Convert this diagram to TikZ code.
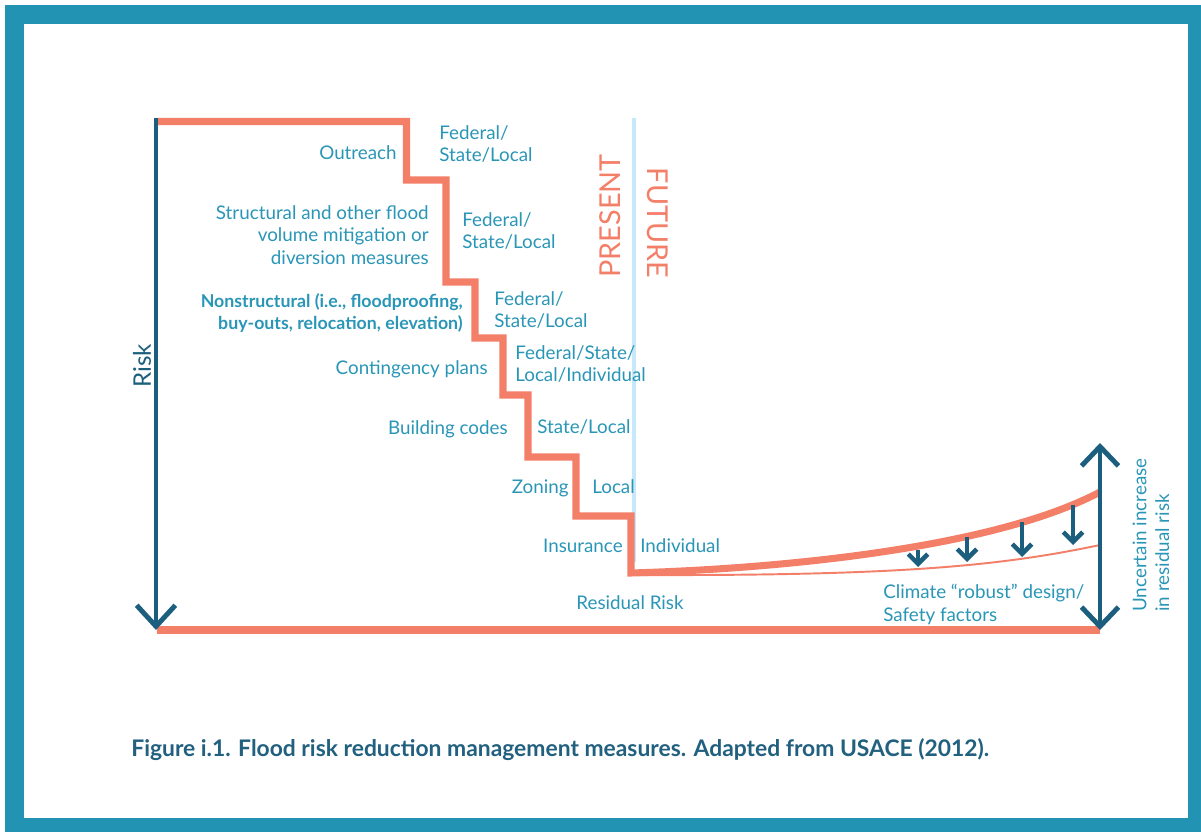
\documentclass[tikz,border=0pt]{standalone}
\usepackage{fontspec}
\setmainfont{Lato}
\usepackage{xcolor}
\usepackage{tikz}
\usetikzlibrary{positioning,arrows.meta}

\definecolor{frameteal}{HTML}{2393B4}
\definecolor{salmon}{HTML}{F37F68}
\definecolor{deepblue}{HTML}{1B5E7E}
\definecolor{textteal}{HTML}{2A96B7}
\definecolor{paleblue}{HTML}{C6E8F8}
\definecolor{captionblue}{HTML}{22607F}

\begin{document}
\begin{tikzpicture}[
				x=0.02cm, y=-0.02cm,
				measure/.style={
					anchor=east,
					align=right,
					inner sep=0pt,
					text=textteal,
					font=\fontsize{10.7}{13}\selectfont
				},
				agency/.style={
					anchor=west,
					align=left,
					inner sep=0pt,
					text=textteal,
					font=\fontsize{10.7}{13}\selectfont
				},
				era/.style={
					inner sep=0pt,
					text=salmon,
					font=\fontsize{16.4}{18}\selectfont
				},
				riskline/.style={
					draw=salmon,
					line width=4pt
				},
				axisarrow/.style={
					draw=deepblue,
					line width=2.8pt,
					-{Straight Barb[length=12pt,width=22pt]}
				},
				spreadarrow/.style={
					draw=deepblue,
					line width=2.8pt,
					{Straight Barb[length=11pt,width=21pt]}-{Straight Barb[length=11pt,width=21pt]}
				},
				droparrow/.style={
					draw=deepblue,
					line width=2.6pt,
					-{Straight Barb[length=5.5pt,width=11pt]}
				}
			]
			\useasboundingbox (0,0) rectangle (1201,832);
			\fill[white] (0,0) rectangle (1201,832);
			\draw[draw=frameteal, line width=10.8pt] (14.5,14.5) rectangle (1197.5,827.5);
			
			% Present / future divide
			\draw[draw=paleblue, line width=2.8pt] (634,118) -- (634,562);
			\node[era, rotate=90] (present) at (610,216) {PRESENT};
			\node[era, rotate=-90] (future) at (658,223) {FUTURE};
			
			% Risk staircase and residual risk curves
			\draw[riskline] (157,121.5) -- (406.5,121.5) -- (406.5,180) -- (446,180) -- (446,282) -- (475,282) -- (475,338) -- (503,338) -- (503,395) -- (528,395) -- (528,457) -- (576,457) -- (576,516) -- (631,516) -- (631,573) .. controls (800,568) and (1000,545) .. (1100,492);
			\draw[draw=salmon, line width=1.1pt] (631,575) .. controls (900,576) and (1000,566) .. (1100,545);
			\draw[riskline] (157,630) -- (1100,630);
			
			% Axes
			\coordinate (risktop) at (156,118);
			\coordinate (riskbase) at (156,630);
			\draw[axisarrow] (risktop) -- (riskbase);
			\node[rotate=90, inner sep=0pt, text=deepblue, font=\fontsize{13.8}{16}\selectfont] (risk) at (142,366) {Risk};
			
			\coordinate (spreadtop) at (1100,443);
			\coordinate (spreadbase) at (1100,630);
			\draw[spreadarrow] (spreadtop) -- (spreadbase);
			\node[agency, rotate=90] (uncertain) at (1151,612) {Uncertain increase\\in residual risk};
			
			% Safety factor arrows
			\coordinate (drop1) at (918,550);
			\coordinate (land1) at (918,567);
			\coordinate (drop2) at (967,537);
			\coordinate (land2) at (967,562);
			\coordinate (drop3) at (1022,522);
			\coordinate (land3) at (1022,557);
			\coordinate (drop4) at (1073,505);
			\coordinate (land4) at (1073,545);
			\draw[droparrow] (drop1) -- (land1);
			\draw[droparrow] (drop2) -- (land2);
			\draw[droparrow] (drop3) -- (land3);
			\draw[droparrow] (drop4) -- (land4);
			
			% Measures
			\node[measure] (outreach) at (397,153) {Outreach};
			\node[measure] (structural) at (429,235) {Structural and other flood\\volume mitigation or\\diversion measures};
			\node[measure, font=\fontsize{10.1}{13}\selectfont\bfseries] (nonstructural) at (463,313) {Nonstructural (i.e., floodproofing,\\buy-outs, relocation, elevation)};
			\node[measure] (contingency) at (488,369) {Contingency plans};
			\node[measure] (codes) at (508,429) {Building codes};
			\node[measure] (zoning) at (569,488) {Zoning};
			\node[measure] (insurance) at (623,546) {Insurance};
			
			% Responsible parties
			\node[agency] (outreachby) at (439,144) {Federal/\\State/Local};
			\node[agency] (structuralby) at (462,231) {Federal/\\State/Local};
			\node[agency] (nonstructuralby) at (494,310) {Federal/\\State/Local};
			\node[agency] (contingencyby) at (515,364) {Federal/State/\\Local/Individual};
			\node[agency] (codesby) at (537,427) {State/Local};
			\node[agency] (zoningby) at (592,487) {Local};
			\node[agency] (insuranceby) at (640,546) {Individual};
			
			\node[measure, anchor=center] (residual) at (630,603) {Residual Risk};
			\node[agency] (climate) at (883,604) {Climate “robust” design/\\Safety factors};
			
			% Caption
			\node[anchor=west, inner sep=0pt, text=captionblue, font=\fontsize{13}{16}\selectfont\bfseries] (caption) at (131,750) {Figure i.1. Flood risk reduction management measures. Adapted from USACE (2012).};
		\end{tikzpicture}
\end{document}
